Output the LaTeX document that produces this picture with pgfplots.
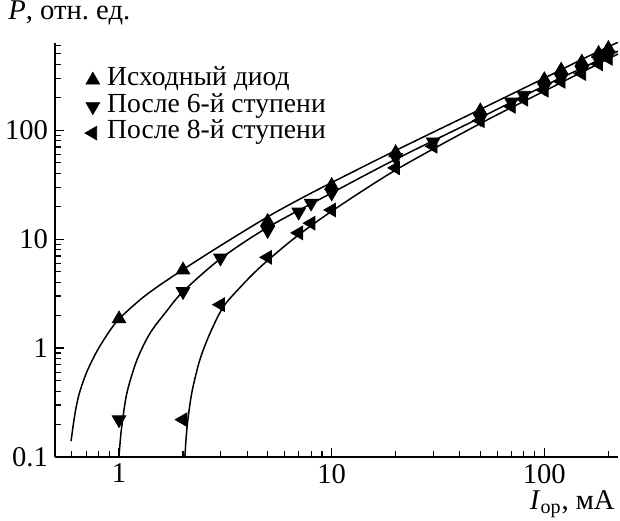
\documentclass[border=0pt]{standalone}
\usepackage{pgfplots}
\pgfplotsset{compat=1.18}
\usepackage{fontspec}
\setmainfont{Liberation Serif}
\newcommand{\fs}{\fontsize{14.3}{17}\selectfont}
\newcommand{\fl}{\fontsize{13.8}{16}\selectfont}
\begin{document}
\begin{tikzpicture}
\begin{axis}[
  at={(0,0)}, anchor=south west,
  scale only axis, width=281.5pt, height=207pt,
  xmode=log, ymode=log,
  xmin=0.5, xmax=222, ymin=0.1, ymax=630,
  axis lines=left,
  axis line style={-, line width=0.75pt},
  tick align=inside,
  major tick length=4.5pt, minor tick length=3pt,
  tick style={black, line width=0.55pt},
  log ticks with fixed point,
  xtick={1,10,100}, ytick={0.1,1,10,100},
  minor xtick={0.6,0.7,0.8,0.9,2,3,4,5,6,7,8,9,20,30,40,50,60,70,80,90,200},
  minor ytick={0.2,0.3,0.4,0.5,0.6,0.7,0.8,0.9,2,3,4,5,6,7,8,9,20,30,40,50,60,70,80,90,200,300,400,500,600},
  /pgf/number format/assume math mode=true,
  every tick label/.append style={font=\fs},
  clip=true,
  legend cell align=left,
  legend style={at={(0.042,0.953)}, anchor=north west, draw=none, fill=none, font=\fl,
    row sep=0pt, nodes={text height=8.5pt, text depth=2.75pt, inner ysep=1pt},
    /tikz/every odd column/.append style={column sep=1.8pt}},
  mark size=3.9pt,
]
% fitted lines
\addplot[black, line width=0.75pt, smooth, forget plot] coordinates {
 (0.595,0.14) (0.61,0.2) (0.625,0.27) (0.645,0.36) (0.67,0.46) (0.707,0.61)
 (0.76,0.82) (0.81,1.03) (0.9,1.42) (1,1.85) (1.25,2.75) (1.5,3.6) (2,5.25)
 (3,8.7) (5,16) (7,23) (10,33) (20,65) (50,155) (100,300) (150,445) (222,640)};
\addplot[black, line width=0.75pt, smooth, forget plot] coordinates {
 (1.0,0.1) (1.01,0.13) (1.03,0.19) (1.09,0.39) (1.215,0.78) (1.4,1.37)
 (1.68,2.2) (2,3.3) (3,6.6) (5,12.8) (10,26.5) (20,54) (50,130) (100,255)
 (150,370) (222,530)};
\addplot[black, line width=0.75pt, smooth, forget plot] coordinates {
 (2.04,0.1) (2.09,0.19) (2.2,0.39) (2.4,0.78) (2.68,1.37) (3.09,2.38)
 (3.71,3.6) (4.6,5.5) (6.6,10.0) (10,18) (20,43) (50,115) (100,228)
 (150,340) (222,500)};
% data
\addplot[only marks, mark=triangle*, black, mark options={fill=black}] coordinates {
 (1,1.85) (2,5.2) (5,14.5) (10,31) (20,62) (50,150) (100,290) (120,355)
 (150,420) (180,505) (200,560)};
\addlegendentry{Исходный диод}
\addplot[only marks, mark=triangle*, black, mark options={fill=black, rotate=180}] coordinates {
 (1,0.22) (2,3.3) (3,6.7) (5,12) (7,17.7) (8,21.4) (10,26.5) (20,56) (30,78)
 (50,128) (70,181) (80,209) (100,248) (120,300) (150,355) (180,438) (200,490)};
\addlegendentry{После 6-й ступени}
\addplot[only marks, mark=triangle*, black, mark options={fill=black, rotate=90}] coordinates {
 (2,0.22) (3,2.5) (5,6.8) (7,11.4) (8,14) (10,18.5) (20,45) (30,71) (50,122)
 (70,165) (80,192) (100,232) (120,280) (150,330) (180,405) (200,455)};
\addlegendentry{После 8-й ступени}
\end{axis}
\node[anchor=base west, inner sep=0pt, font=\fs] at (-23.5pt,218.5pt) {\textit{P}, отн.~ед.};
\node[anchor=base east, inner sep=0pt, font=\fs] at (280pt,-26.3pt) {\textit{I}\textsubscript{ор}, мА};
\pgfresetboundingbox
\path[use as bounding box] (-27.5pt,-31.5pt) rectangle (282.5pt,228.5pt);
\end{tikzpicture}
\end{document}
